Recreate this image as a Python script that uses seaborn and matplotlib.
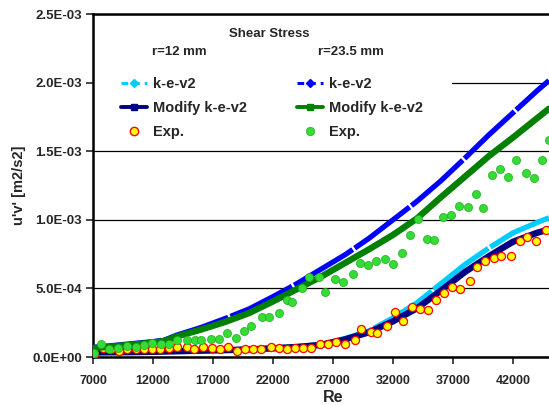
import matplotlib
matplotlib.use("Agg")
import matplotlib.pyplot as plt
import seaborn as sns
import pandas as pd
from matplotlib.lines import Line2D
from matplotlib.patches import Rectangle
from matplotlib.ticker import FuncFormatter, MultipleLocator

# Reynolds numbers of the simulated curves
re_sim = [7000, 8000, 10000, 12000, 13000, 14000, 16000, 18000, 20000, 22000, 24000,
          26000, 28000, 30000, 32000, 34000, 36000, 38000, 40000, 42000, 44000, 45000]

# u'v' shear stress, in units of 1e-4 m2/s2
kev2_r12 = [0.33, 0.34, 0.36, 0.39, 0.41, 0.43, 0.47, 0.51, 0.57, 0.66, 0.76,
            0.92, 1.35, 1.90, 2.85, 3.95, 5.35, 6.75, 7.95, 9.05, 9.80, 10.15]
mod_r12 = [0.33, 0.34, 0.35, 0.38, 0.40, 0.42, 0.46, 0.50, 0.55, 0.63, 0.73,
           0.88, 1.28, 1.80, 2.60, 3.55, 4.85, 6.20, 7.35, 8.40, 9.05, 9.30]
kev2_r235 = [0.70, 0.78, 0.95, 1.12, 1.25, 1.60, 2.15, 2.80, 3.50, 4.40, 5.35,
             6.40, 7.45, 8.65, 10.0, 11.35, 12.85, 14.5, 16.2, 17.8, 19.4, 20.15]
mod_r235 = [0.65, 0.72, 0.88, 1.05, 1.18, 1.50, 2.00, 2.55, 3.20, 4.05, 4.95,
            5.85, 6.85, 7.85, 8.90, 10.1, 11.65, 13.15, 14.65, 16.0, 17.4, 18.1]

# Measurements, r = 12 mm
exp_r12_re = [7050, 7800, 8470, 9190, 9860, 10580, 11250, 11920, 12580, 13310,
              14030, 14810, 15420, 16190, 16920, 17580, 18250, 18970, 19640, 20310,
              20970, 21810, 22470, 23140, 23860, 24530, 25190, 25920, 26580, 27250,
              27970, 28810, 29360, 30140, 30690, 31470, 32190, 32860, 33580, 34250,
              34920, 35580, 36250, 36920, 37580, 38420, 38970, 39670, 40440, 41030,
              41830, 42580, 43170, 43920, 44750]
exp_r12_uv = [0.25, 0.63, 0.56, 0.46, 0.56, 0.61, 0.56, 0.56, 0.56, 0.63,
              0.70, 0.73, 0.56, 0.70, 0.68, 0.56, 0.70, 0.46, 0.56, 0.58,
              0.58, 0.70, 0.68, 0.56, 0.68, 0.68, 0.68, 0.92, 0.92, 1.09,
              0.92, 1.26, 2.02, 1.82, 1.75, 2.26, 3.26, 2.60, 3.62, 3.52,
              3.40, 4.13, 4.66, 5.13, 4.96, 5.56, 6.53, 6.97, 7.24, 7.39,
              7.39, 8.43, 8.72, 8.45, 9.23]

# Measurements, r = 23.5 mm
exp_r235_re = [7080, 7690, 8360, 9080, 9860, 10580, 11250, 11920, 12690, 13310,
               13970, 14810, 15470, 16030, 16810, 17470, 18140, 18920, 19560, 20190,
               21080, 21640, 22470, 23140, 23580, 24420, 25030, 25810, 26360, 27190,
               27860, 28690, 29250, 29920, 30580, 31360, 31970, 32750, 33420, 34080,
               34860, 35440, 36140, 36810, 37530, 38250, 38920, 39530, 40250, 40920,
               41580, 42250, 43080, 43750, 44420, 44970]
exp_r235_uv = [0.27, 0.95, 0.61, 0.66, 0.78, 0.75, 0.90, 1.02, 0.97, 0.92,
               1.22, 1.22, 1.22, 1.22, 1.34, 1.34, 1.75, 1.40, 1.92, 2.26,
               2.94, 2.89, 3.18, 4.15, 4.01, 5.00, 5.85, 5.85, 4.74, 5.71,
               5.44, 6.07, 6.87, 6.68, 7.02, 7.14, 6.76, 7.56, 8.91, 10.08,
               8.62, 8.53, 10.23, 10.37, 11.0, 10.91, 11.9, 10.86, 13.24, 13.68,
               13.14, 14.36, 13.39, 13.02, 14.34, 15.8]

x_ticks = [7000, 12000, 17000, 22000, 27000, 32000, 37000, 42000]
legend_labels = ["k-e-v2", "Modify k-e-v2", "Exp."]

SCALE = 1e-4
C_LBLUE, C_NAVY = "#00ccff", "#000080"
C_BLUE, C_GREEN = "#0000ff", "#008000"
C_EXP_FILL, C_EXP_EDGE = "#ffff00", "#ff0000"
C_EXP2_FILL, C_EXP2_EDGE = "#33dd33", "#22aa22"

sns.set_style("white")
plt.rcParams["font.family"] = ["Liberation Sans", "DejaVu Sans"]
plt.rcParams["font.weight"] = "bold"

W, H = 549, 405
fig = plt.figure(figsize=(W / 100, H / 100), dpi=100)
ax = fig.add_axes([93 / W, 1 - 357 / H, (W - 93) / W, 343 / H])

sim = pd.DataFrame({"Re": re_sim,
                    "kev2_r12": [v * SCALE for v in kev2_r12],
                    "mod_r12": [v * SCALE for v in mod_r12],
                    "kev2_r235": [v * SCALE for v in kev2_r235],
                    "mod_r235": [v * SCALE for v in mod_r235]})
exp12 = pd.DataFrame({"Re": exp_r12_re, "uv": [v * SCALE for v in exp_r12_uv]})
exp235 = pd.DataFrame({"Re": exp_r235_re, "uv": [v * SCALE for v in exp_r235_uv]})

dash_pat = (0, (13, 0.45))
sns.lineplot(data=sim, x="Re", y="kev2_r12", ax=ax, color=C_LBLUE, linewidth=3.8,
             linestyle=dash_pat, estimator=None, zorder=3)
sns.lineplot(data=sim, x="Re", y="mod_r12", ax=ax, color=C_NAVY, linewidth=4.6,
             estimator=None, zorder=3)
sns.scatterplot(data=exp12, x="Re", y="uv", ax=ax, s=34, color=C_EXP_FILL,
                edgecolor=C_EXP_EDGE, linewidth=0.9, zorder=4)
sns.lineplot(data=sim, x="Re", y="kev2_r235", ax=ax, color=C_BLUE, linewidth=3.8,
             linestyle=dash_pat, estimator=None, zorder=5)
sns.lineplot(data=sim, x="Re", y="mod_r235", ax=ax, color=C_GREEN, linewidth=4.6,
             estimator=None, zorder=5)
sns.scatterplot(data=exp235, x="Re", y="uv", ax=ax, s=34, color=C_EXP2_FILL,
                edgecolor=C_EXP2_EDGE, linewidth=0.5, zorder=6)

ax.set_xlim(7000, 45000)
ax.set_ylim(0, 2.5e-3)
ax.set_xticks(x_ticks)
ax.yaxis.set_major_locator(MultipleLocator(5e-4))
ax.yaxis.set_major_formatter(FuncFormatter(lambda v, p: f"{v:.1E}"))
ax.tick_params(axis="y", direction="out", length=5, width=1.2, labelsize=9.5, pad=3,
               left=True)
ax.tick_params(axis="x", direction="out", length=5, width=1.2, labelsize=9, pad=8,
               bottom=True)
for lab in ax.get_xticklabels() + ax.get_yticklabels():
    lab.set_fontweight("bold")

ax.grid(axis="y", color="black", linewidth=0.9)
ax.grid(axis="x", visible=False)
ax.set_axisbelow(True)
for side in ("left", "bottom", "top"):
    ax.spines[side].set_visible(True)
    ax.spines[side].set_color("black")
    ax.spines[side].set_linewidth(1.8)
ax.spines["right"].set_visible(False)

ax.set_xlabel("Re", fontsize=11.5, fontweight="bold")
ax.xaxis.set_label_coords((333 - 93) / (W - 93), -0.095)
ax.set_ylabel("u'v' [m2/s2]", fontsize=10.5, fontweight="bold")
ax.yaxis.set_label_coords(-(93 - 26) / (W - 93), 0.5)

# white panel behind the legend block
ax.add_patch(Rectangle((0, (357 - 145) / 343), (452 - 93) / (W - 93), (145 - 68) / 343,
                       transform=ax.transAxes, facecolor="white", edgecolor="none",
                       zorder=1.5))


def handles(c_line, c_mod, fill, edge, ew):
    return [
        Line2D([], [], color=c_line, linewidth=2.2, linestyle=(0, (2.2, 1.6)),
               marker="D", markersize=4.2, markerfacecolor=c_line, markeredgecolor=c_line),
        Line2D([], [], color=c_mod, linewidth=2.8, marker="s", markersize=4.8,
               markerfacecolor=c_mod, markeredgecolor=c_mod),
        Line2D([], [], linestyle="none", marker="o", markersize=6,
               markerfacecolor=fill, markeredgecolor=edge, markeredgewidth=ew),
    ]


leg_kw = dict(loc="upper left", frameon=False, borderpad=0, borderaxespad=0,
              handlelength=1.75, handletextpad=0.45, labelspacing=0.68, numpoints=1,
              prop={"size": 10.5, "weight": "bold"})
leg1 = ax.legend(handles(C_LBLUE, C_NAVY, C_EXP_FILL, C_EXP_EDGE, 1.0), legend_labels,
                 bbox_to_anchor=(121 / W, 1 - 77.5 / H), bbox_transform=fig.transFigure,
                 **leg_kw)
leg1.set_zorder(7)
ax.add_artist(leg1)
leg2 = ax.legend(handles(C_BLUE, C_GREEN, C_EXP2_FILL, C_EXP2_EDGE, 0.5), legend_labels,
                 bbox_to_anchor=(297 / W, 1 - 77.5 / H), bbox_transform=fig.transFigure,
                 **leg_kw)
leg2.set_zorder(7)

fig.text(269 / W, 1 - 34 / H, "Shear Stress", ha="center", va="center",
         fontsize=9.5, fontweight="bold")
fig.text(152 / W, 1 - 52 / H, "r=12 mm", ha="left", va="center",
         fontsize=9.5, fontweight="bold")
fig.text(318 / W, 1 - 52 / H, "r=23.5 mm", ha="left", va="center",
         fontsize=9.5, fontweight="bold")

fig.savefig("out.png", dpi=100)
